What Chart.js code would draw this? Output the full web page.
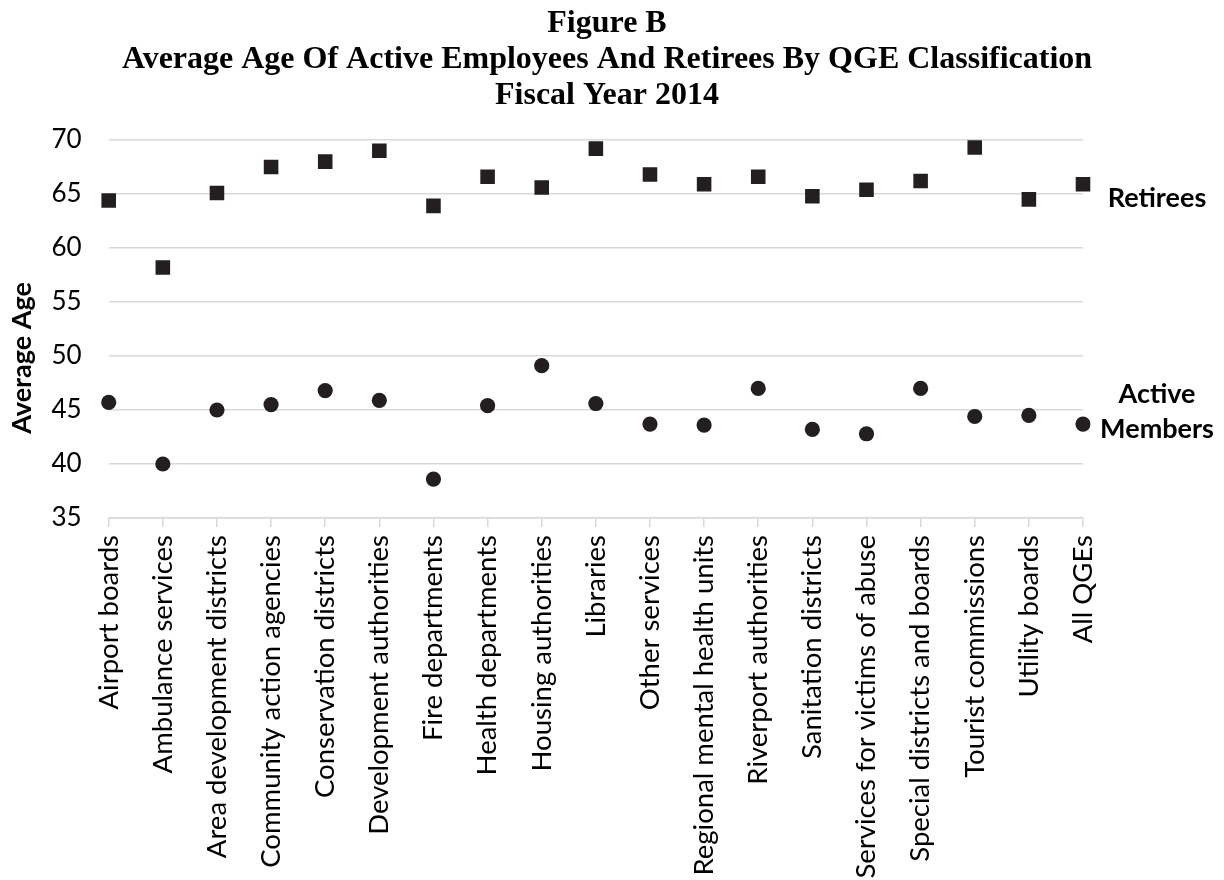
<!DOCTYPE html>
<html>
<head>
<meta charset="utf-8">
<script src="https://cdn.jsdelivr.net/npm/chart.js@4.4.0/dist/chart.umd.min.js"></script>
<style>
  html, body { margin: 0; padding: 0; background: #fff; }
  #wrap { width: 1224px; height: 880px; }
</style>
</head>
<body>
<div id="wrap"><canvas id="grafico"></canvas></div>
<script>
const categorias = [
  "Airport boards", "Ambulance services", "Area development districts",
  "Community action agencies", "Conservation districts", "Development authorities",
  "Fire departments", "Health departments", "Housing authorities", "Libraries",
  "Other services", "Regional mental health units", "Riverport authorities",
  "Sanitation districts", "Services for victims of abuse", "Special districts and boards",
  "Tourist commissions", "Utility boards", "All QGEs"
];
const aposentados = [64.4, 58.2, 65.1, 67.5, 68.0, 69.0, 63.9, 66.6, 65.6, 69.2,
                     66.8, 65.9, 66.6, 64.8, 65.4, 66.2, 69.3, 64.5, 65.9];
const ativos = [45.7, 40.0, 45.0, 45.5, 46.8, 45.9, 38.6, 45.4, 49.1, 45.6,
                43.7, 43.6, 47.0, 43.2, 42.8, 47.0, 44.4, 44.5, 43.7];
const ticksY = [35, 40, 45, 50, 55, 60, 65, 70];
const titulo = [
  "Figure B",
  "Average Age Of Active Employees And Retirees By QGE Classification",
  "Fiscal Year 2014"
];

const corPonto = "#231f20";
const fonteSans = "Lato";

// título, título do eixo Y e rótulos das séries desenhados à mão
const textosExtras = {
  id: "textosExtras",
  afterDraw(chart) {
    const { ctx, chartArea, scales } = chart;
    const y = scales.y;
    ctx.save();
    ctx.fillStyle = "#000";

    ctx.font = "bold 32px 'Liberation Serif'";
    ctx.textAlign = "center";
    ctx.textBaseline = "alphabetic";
    titulo.forEach((linha, i) => ctx.fillText(linha, 607, 32 + i * 36));

    ctx.save();
    ctx.translate(22, 358);
    ctx.rotate(-Math.PI / 2);
    ctx.font = "bold 27px " + fonteSans;
    ctx.textBaseline = "middle";
    ctx.fillText("Average Age", 0, 0);
    ctx.restore();

    const cx = chartArea.right + 74;
    ctx.font = "bold 27px " + fonteSans;
    ctx.textBaseline = "middle";
    ctx.fillText("Retirees", cx, y.getPixelForValue(64.6));
    ctx.fillText("Active", cx, y.getPixelForValue(46.5));
    ctx.fillText("Members", cx, y.getPixelForValue(43.2));
    ctx.restore();
  }
};

new Chart(document.getElementById("grafico"), {
  type: "line",
  data: {
    labels: categorias,
    datasets: [
      {
        label: "Retirees",
        data: aposentados,
        showLine: false,
        pointStyle: "rect",
        pointRadius: 10.3,
        pointHoverRadius: 10.3,
        backgroundColor: corPonto,
        borderColor: corPonto,
        borderWidth: 0
      },
      {
        label: "Active Members",
        data: ativos,
        showLine: false,
        pointStyle: "circle",
        pointRadius: 7.6,
        pointHoverRadius: 7.6,
        backgroundColor: corPonto,
        borderColor: corPonto,
        borderWidth: 0
      }
    ]
  },
  options: {
    responsive: true,
    maintainAspectRatio: false,
    animation: false,
    layout: { padding: { left: 0, right: 141, top: 140, bottom: 0 } },
    plugins: {
      legend: { display: false },
      tooltip: { enabled: false },
      title: { display: false }
    },
    scales: {
      x: {
        offset: false,
        afterFit: s => { s.height = 362; },
        grid: { drawOnChartArea: false, drawTicks: true, tickLength: 9, color: "#d9d9d9", lineWidth: 1.5 },
        border: { display: true, color: "#d9d9d9", width: 1.5 },
        ticks: {
          autoSkip: false,
          minRotation: 90,
          maxRotation: 90,
          padding: 8,
          color: "#000",
          font: { family: fonteSans, size: 27.5 }
        }
      },
      y: {
        min: 35,
        max: 70,
        afterFit: s => { s.width = 108.7; },
        afterBuildTicks: s => { s.ticks = ticksY.map(v => ({ value: v })); },
        grid: { drawTicks: false, color: "#d9d9d9", lineWidth: 1.5 },
        border: { display: false },
        ticks: {
          padding: 27,
          color: "#000",
          font: { family: fonteSans, size: 26 }
        }
      }
    }
  },
  plugins: [textosExtras]
});
</script>
</body>
</html>
